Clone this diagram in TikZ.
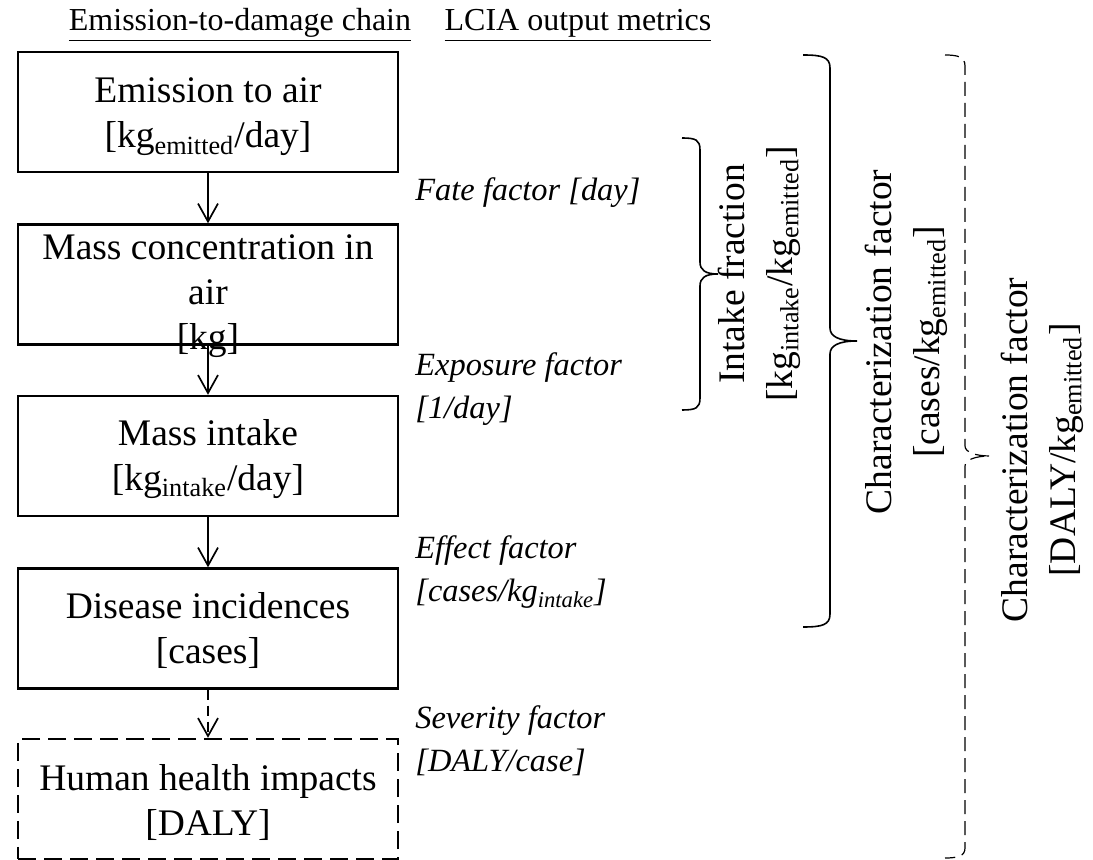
\documentclass[tikz,border=0pt]{standalone}
\usepackage{fontspec}
\setmainfont{Liberation Serif}
\usetikzlibrary{arrows.meta}
\begin{document}
\begin{tikzpicture}[x=0.5pt,y=-0.5pt,
  box/.style={draw, line width=1.2pt, minimum width=190pt, minimum height=60pt, inner sep=0pt},
  dbox/.style={box, dash pattern=on 9pt off 4pt},
  boxtxt/.style={align=center, font=\fontsize{18.75}{22.5}\selectfont, inner sep=0pt},
  lbl/.style={anchor=base west, align=left, font=\fontsize{16.2}{21.5}\selectfont\itshape, inner sep=0pt},
  hdr/.style={anchor=base, font=\fontsize{16}{19}\selectfont, inner sep=0pt},
  vtxt/.style={rotate=90, align=center, font=\fontsize{18.75}{24}\selectfont, inner sep=0pt},
  arr/.style={line width=0.85pt, -{Straight Barb[length=9pt,width=10pt]}},
  darr/.style={arr, dash pattern=on 5pt off 3pt},
  brc/.style={line width=0.8pt},
  dbrc/.style={line width=0.6pt, dash pattern=on 7pt off 3.5pt}
]
\useasboundingbox (0,0) rectangle (1093,860);

% headers
\node[hdr] (h1) at (240,31) {\underline{Emission-to-damage chain}};
\node[hdr] (h2) at (578,31) {\underline{LCIA output metrics}};

% boxes
\node[box] (b1) at (208,112) {};
\node[box] (b2) at (208,284.5) {};
\node[box] (b3) at (208,456) {};
\node[box] (b4) at (208,628.5) {};
\node[dbox] (b5) at (208,799) {};

\node[boxtxt] (t1) at (208,117) {Emission to air\\{}[kg\textsubscript{emitted}/day]};
\node[boxtxt] (t2) at (208,296) {Mass concentration in\\air\\{}[kg]};
\node[boxtxt] (t3) at (208,459) {Mass intake\\{}[kg\textsubscript{intake}/day]};
\node[boxtxt] (t4) at (208,631) {Disease incidences\\{}[cases]};
\node[boxtxt] (t5) at (208,802) {Human health impacts\\{}[DALY]};

% arrows
\draw[arr] (b1) -- (b2);
\draw[arr] (b2) -- (b3);
\draw[arr] (b3) -- (b4);
\draw[darr] (b4) -- (b5);

% factor labels (anchor = baseline of the last line)
\node[lbl] (f1) at (415,201) {Fate factor [day]};
\node[lbl] (f2) at (415,419) {Exposure factor\\{}[1/day]};
\node[lbl] (f3) at (415,602) {Effect factor\\{}[cases/kg\textsubscript{intake}]};
\node[lbl] (f4) at (415,772) {Severity factor\\{}[DALY/case]};

% small brace: intake fraction
\draw[brc] (682,138) .. controls (696,138) and (700,140) .. (700,150)
  -- (700,262) .. controls (700,270) and (705,274) .. (718,274)
  .. controls (705,274) and (700,278) .. (700,286)
  -- (700,398) .. controls (700,408) and (696,410) .. (682,410);
\node[vtxt] (m1) at (759,274) {Intake fraction\\{}[kg\textsubscript{intake}/kg\textsubscript{emitted}]};

% big brace: CF cases
\draw[brc] (803,55) .. controls (822,55) and (830,57) .. (830,68)
  -- (830,328) .. controls (830,336) and (838,341) .. (857,341)
  .. controls (838,341) and (830,346) .. (830,354)
  -- (830,614) .. controls (830,625) and (822,627) .. (803,627);
\node[vtxt] (m2) at (906,342) {Characterization factor\\{}[cases/kg\textsubscript{emitted}]};

% dashed brace: CF DALY
\draw[dbrc] (945,55) .. controls (958,55) and (965,57) .. (965,66)
  -- (965,446) .. controls (965,452) and (975,456) .. (990,456)
  .. controls (975,456) and (965,460) .. (965,466)
  -- (965,848) .. controls (965,856) and (958,858) .. (945,858);
\node[vtxt] (m3) at (1042,450) {Characterization factor\\{}[DALY/kg\textsubscript{emitted}]};
\end{tikzpicture}
\end{document}
